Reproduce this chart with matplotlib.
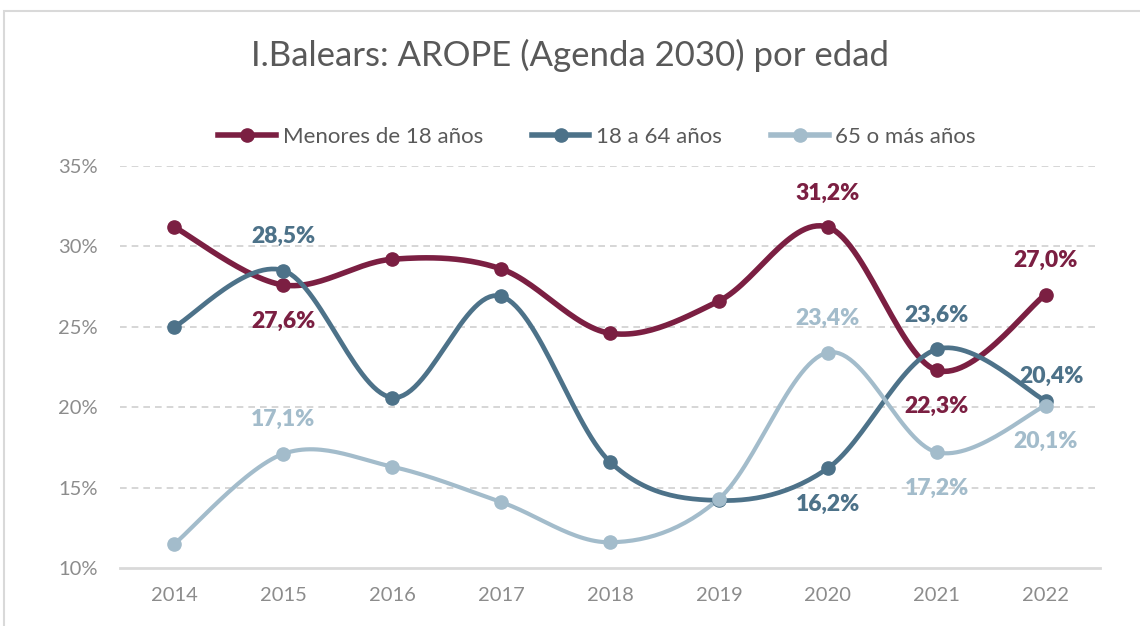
import numpy as np
import matplotlib.pyplot as plt
from matplotlib.patches import Rectangle

plt.rcParams['font.family'] = ['Lato', 'DejaVu Sans']

years = ['2014', '2015', '2016', '2017', '2018', '2019', '2020', '2021', '2022']
menores = [31.2, 27.6, 29.2, 28.6, 24.6, 26.6, 31.2, 22.3, 27.0]
adultos = [25.0, 28.5, 20.6, 26.9, 16.6, 14.2, 16.2, 23.6, 20.4]
mayores = [11.5, 17.1, 16.3, 14.1, 11.6, 14.3, 23.4, 17.2, 20.1]
series_names = ['Menores de 18 años', '18 a 64 años', '65 o más años']

colors = ['#7B1F42', '#4D7289', '#A3BCCB']
widths = [4.0, 3.4, 3.0]
# which points get a label: index -> 'above' / 'below'
labels_pos = [
    {1: 'below', 6: 'above', 7: 'below', 8: 'above'},
    {1: 'above', 6: 'below', 7: 'above', 8: 'above'},
    {1: 'above', 6: 'above', 7: 'below', 8: 'below'},
]


def smooth(x, y, n=30):
    # Excel-style smoothed line: cubic bezier, control points from neighbours
    x = np.asarray(x, float)
    y = np.asarray(y, float)
    xs, ys = [x[0]], [y[0]]
    t = np.linspace(0, 1, n)[1:]
    for i in range(len(x) - 1):
        p0 = np.array([x[max(i - 1, 0)], y[max(i - 1, 0)]])
        p1 = np.array([x[i], y[i]])
        p2 = np.array([x[i + 1], y[i + 1]])
        p3 = np.array([x[min(i + 2, len(x) - 1)], y[min(i + 2, len(x) - 1)]])
        c1 = p1 + (p2 - p0) / 6
        c2 = p2 - (p3 - p1) / 6
        pts = ((1 - t) ** 3)[:, None] * p1 + (3 * (1 - t) ** 2 * t)[:, None] * c1 \
            + (3 * (1 - t) * t ** 2)[:, None] * c2 + (t ** 3)[:, None] * p2
        xs.extend(pts[:, 0])
        ys.extend(pts[:, 1])
    return np.array(xs), np.array(ys)


fig = plt.figure(figsize=(11.4, 6.26), dpi=100)
fig.patches.append(Rectangle((4 / 1140, -0.05), 1.1, (626 - 11) / 626 + 0.05,
                             transform=fig.transFigure, fill=False,
                             edgecolor='#D9D9D9', linewidth=1.5))
ax = fig.add_axes([120 / 1140, 1 - 568 / 626, 980 / 1140, (568 - 166) / 626])

x = np.arange(len(years))
handles = []
for vals, col, lw, name, lp in zip([menores, adultos, mayores], colors, widths,
                                   series_names, labels_pos):
    sx, sy = smooth(x, vals)
    ax.plot(sx, sy, color=col, lw=lw, zorder=3, solid_capstyle='round')
    ax.plot(x, vals, 'o', color=col, ms=9.5, zorder=4)
    h, = ax.plot([], [], '-o', color=col, lw=4, ms=9.5, label=name)
    handles.append(h)
    for i, where in lp.items():
        off = 34 if where == 'above' else -36
        dx = 0
        if col == colors[1] and i == 8:
            dx = 6
            off = 24
        ax.annotate(f'{vals[i]:.1f}%'.replace('.', ','), (x[i], vals[i]),
                    xytext=(dx, off), textcoords='offset pixels',
                    ha='center', va='center', color=col, fontsize=16.5,
                    fontweight='heavy', zorder=5)

ax.set_xlim(-0.5, len(years) - 0.5)
ax.set_ylim(10, 35)
ax.set_xticks(x)
ax.set_xticklabels(years)
ax.set_yticks([10, 15, 20, 25, 30, 35])
ax.set_yticklabels([f'{v}%' for v in [10, 15, 20, 25, 30, 35]])
ax.tick_params(length=0, colors='#8C8C8C', labelsize=14.5)
ax.tick_params(axis='x', pad=14)
ax.tick_params(axis='y', pad=16)
for s in ['top', 'right', 'left']:
    ax.spines[s].set_visible(False)
ax.spines['bottom'].set_color('#D9D9D9')
ax.spines['bottom'].set_linewidth(2)
ax.yaxis.grid(True, color='#D0D0D0', linestyle=(0, (4, 3)), linewidth=1.2)
ax.set_axisbelow(True)
ax.get_ygridlines()[0].set_visible(False)

fig.text(570 / 1140, 1 - 55 / 626, 'I.Balears: AROPE (Agenda 2030) por edad',
         ha='center', va='center', fontsize=25, color='#595959')
fig.legend(handles=handles, loc='center', bbox_to_anchor=(597 / 1140, 1 - 137 / 626),
           ncol=3, frameon=False, fontsize=16, handlelength=2.6, columnspacing=2.2,
           handletextpad=0.3, labelcolor='#595959')

fig.savefig('out.png', dpi=100)
